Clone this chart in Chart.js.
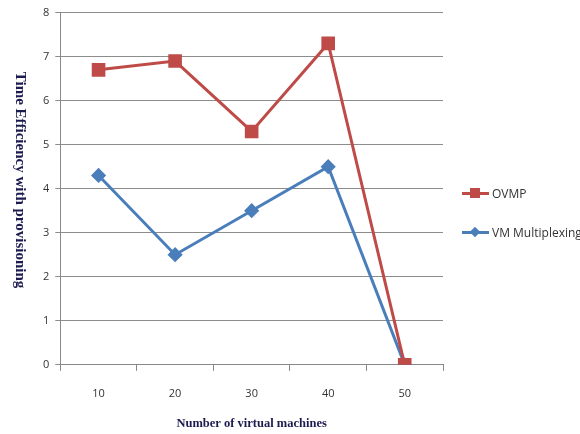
<!DOCTYPE html>
<html>
<head>
<meta charset="utf-8">
<script src="https://cdn.jsdelivr.net/npm/chart.js@4"></script>
<style>
  body { margin: 0; background: #fff; }
  #wrap { position: relative; width: 580px; height: 434px; overflow: hidden; }
  #legend { position: absolute; left: 462px; top: 183px; font: 12px "Open Sans", sans-serif; color: #333; white-space: nowrap; }
  .item { display: flex; align-items: center; height: 20px; margin-bottom: 19px; }
  .mark { position: relative; flex: none; width: 27px; height: 10px; margin-right: 3px; }
  .mark .ln { position: absolute; left: 0; right: 0; top: 4px; height: 3px; }
  .mark .pt { position: absolute; left: 8px; top: 0; width: 10px; height: 10px; }
</style>
</head>
<body>
<div id="wrap">
  <canvas id="chart" width="580" height="434"></canvas>
  <div id="legend"></div>
</div>
<script>
// --- data ---
const categories = ['10', '20', '30', '40', '50'];
const ovmpValues = [6.7, 6.9, 5.3, 7.3, 0];
const vmMultiplexingValues = [4.3, 2.5, 3.5, 4.5, 0];
const yTicks = [0, 1, 2, 3, 4, 5, 6, 7, 8];

const RED = '#BE4B48';
const BLUE = '#4A7EBB';
const TITLE_COLOR = '#1b1b4f';

// draws the y title rotated clockwise (reads top to bottom)
const yTitlePlugin = {
    id: 'yTitle',
    afterDraw(chart) {
        const { ctx } = chart;
        ctx.save();
        ctx.translate(20, 180);
        ctx.rotate(Math.PI / 2);
        ctx.font = 'bold 15px "Liberation Serif", serif';
        ctx.fillStyle = TITLE_COLOR;
        ctx.textAlign = 'center';
        ctx.textBaseline = 'middle';
        ctx.fillText('Time Efficiency with provisioning', 0, 0);
        ctx.restore();
    }
};

new Chart(document.getElementById('chart'), {
    type: 'line',
    data: {
        labels: categories,
        datasets: [
            { label: 'OVMP', data: ovmpValues, borderColor: RED, backgroundColor: RED, order: 0,
              borderWidth: 3, pointStyle: 'rect', pointRadius: 7.5, pointHoverRadius: 7.5, tension: 0 },
            { label: 'VM Multiplexing', data: vmMultiplexingValues, borderColor: BLUE, backgroundColor: BLUE, order: 1,
              borderWidth: 3, pointStyle: 'rectRot', pointRadius: 5.5, pointHoverRadius: 5.5, tension: 0 }
        ]
    },
    options: {
        responsive: false,
        animation: false,
        layout: { padding: { left: 37, right: 137, top: 3, bottom: 0 } },
        plugins: {
            legend: { display: false },
            tooltip: { enabled: false }
        },
        scales: {
            x: {
                offset: true,
                grid: { offset: true, drawOnChartArea: false, drawTicks: true, tickLength: 6, color: '#888' },
                border: { color: '#888', width: 1 },
                ticks: { color: '#333', font: { family: '"Open Sans", sans-serif', size: 11 }, padding: 16 },
                title: { display: true, text: 'Number of virtual machines', color: TITLE_COLOR,
                         font: { family: '"Liberation Serif", serif', size: 12.5, weight: 'bold' }, padding: { top: 0, bottom: 3 } }
            },
            y: {
                min: 0, max: 8,
                afterBuildTicks: axis => { axis.ticks = yTicks.map(v => ({ value: v })); },
                grid: { color: '#8c8c8c', tickLength: 5 },
                border: { color: '#888', width: 1 },
                ticks: { color: '#333', font: { family: '"Open Sans", sans-serif', size: 11 }, padding: 6 }
            }
        }
    },
    plugins: [yTitlePlugin]
});

// --- legend built as html, line with marker like the reference ---
const legendEl = document.getElementById('legend');
[['OVMP', RED, ''], ['VM Multiplexing', BLUE, 'transform: rotate(45deg) scale(0.75);']].forEach(([name, color, shape]) => {
    legendEl.innerHTML += `<div class="item"><span class="mark"><span class="ln" style="background:${color}"></span>` +
        `<span class="pt" style="background:${color};${shape}"></span></span>${name}</div>`;
});
</script>
</body>
</html>
